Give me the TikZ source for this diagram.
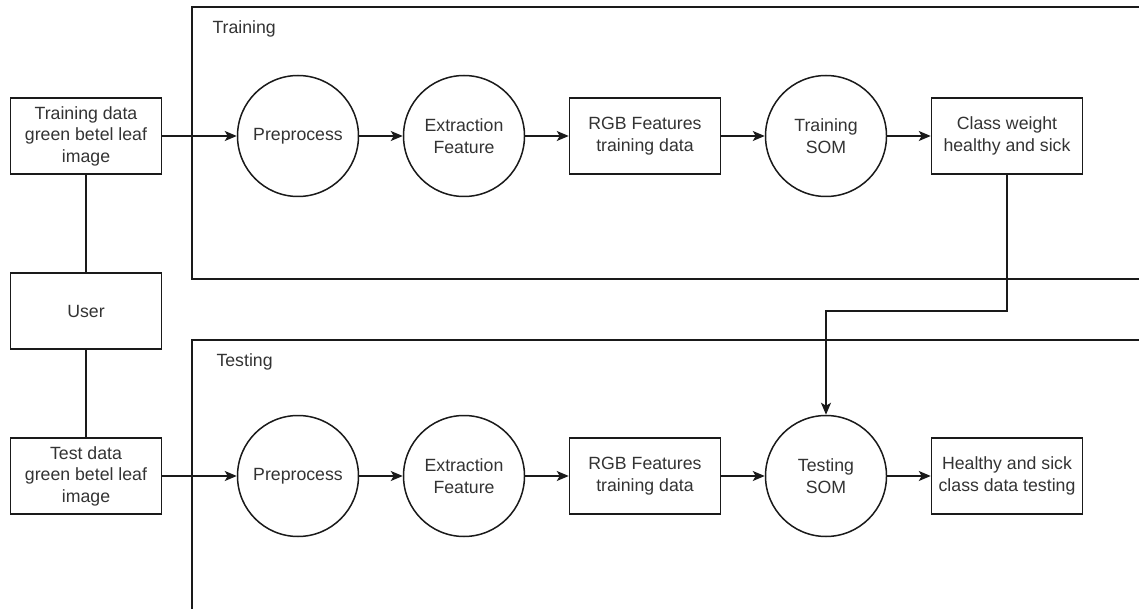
\documentclass[tikz,border=0pt]{standalone}
\usepackage{fontspec}
\setmainfont{Liberation Sans}
\usetikzlibrary{arrows.meta}
\definecolor{txt}{HTML}{333333}
\definecolor{ln}{HTML}{1A1A1A}
\begin{document}
\begin{tikzpicture}[x=1pt,y=-1pt,
  every node/.style={font=\fontsize{17.7}{21.5}\selectfont, text=txt, align=center},
  boxnode/.style={draw=ln, line width=1.5pt, rectangle, minimum width=151pt, minimum height=76pt, inner sep=2pt},
  circnode/.style={draw=ln, line width=1.5pt, circle, minimum size=121pt, inner sep=0pt},
  conn/.style={draw=ln, line width=1.5pt},
  arr/.style={conn, -{Stealth[length=12pt,width=10pt,inset=3pt]}},
  frame/.style={draw=ln, line width=1.5pt}
]
\useasboundingbox (0,0) rectangle (1139,609);
% frames
\draw[frame] (1150,7) -| (192,279) -- (1150,279);
\draw[frame] (1150,340) -| (192,620);
\node[anchor=west] (trl) at (209,29) {Training};
\node[anchor=west] (tel) at (213,362) {Testing};
% left column
\node[boxnode] (td) at (86,136) {Training data\\green betel leaf\\image};
\node[boxnode] (user) at (86,311) {User};
\node[boxnode] (ted) at (86,476) {Test data\\green betel leaf\\image};
% training row
\node[circnode] (pre1) at (298,136) {Preprocess};
\node[circnode] (ext1) at (464,136) {Extraction\\Feature};
\node[boxnode] (rgb1) at (645,136) {RGB Features\\training data};
\node[circnode] (som1) at (826,136) {Training\\SOM};
\node[boxnode] (cw1) at (1007,136) {Class weight\\healthy and sick};
% testing row
\node[circnode] (pre2) at (298,476) {Preprocess};
\node[circnode] (ext2) at (464,476) {Extraction\\Feature};
\node[boxnode] (rgb2) at (645,476) {RGB Features\\training data};
\node[circnode] (som2) at (826,476) {Testing\\SOM};
\node[boxnode] (hs2) at (1007,476) {Healthy and sick\\class data testing};
% connectors
\draw[conn] (td) -- (user);
\draw[conn] (user) -- (ted);
\draw[arr] (td) -- (pre1);
\draw[arr] (pre1) -- (ext1);
\draw[arr] (ext1) -- (rgb1);
\draw[arr] (rgb1) -- (som1);
\draw[arr] (som1) -- (cw1);
\draw[arr] (ted) -- (pre2);
\draw[arr] (pre2) -- (ext2);
\draw[arr] (ext2) -- (rgb2);
\draw[arr] (rgb2) -- (som2);
\draw[arr] (som2) -- (hs2);
\coordinate (bend) at (826,311);
\draw[arr] (cw1.south) |- (bend) -- (som2.north);
\end{tikzpicture}
\end{document}
